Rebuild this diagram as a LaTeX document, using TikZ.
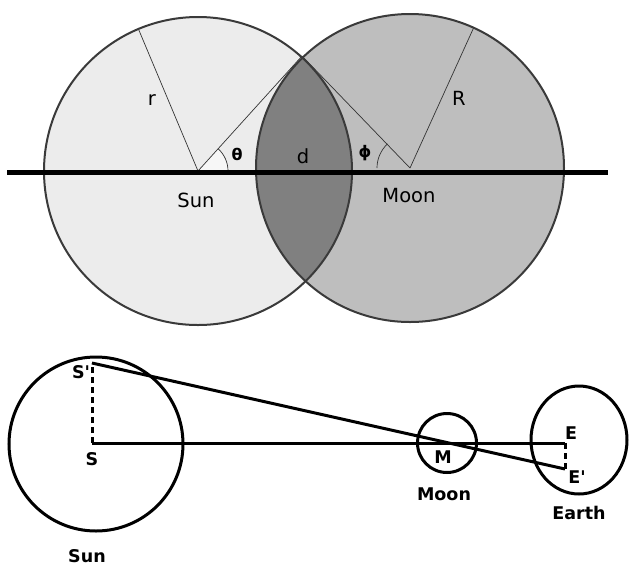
\documentclass[tikz,border=0pt]{standalone}
\usepackage{fontspec}
\newfontfamily\lblfont{DejaVu Sans}
\definecolor{sunfill}{HTML}{ECECEC}
\definecolor{moonfill}{HTML}{BEBEBE}
\definecolor{lensfill}{HTML}{808080}
\definecolor{rim}{HTML}{3A3A3A}
\tikzset{
  rimline/.style={draw=rim, line width=2pt},
  thin/.style={draw=black!80, line width=0.7pt},
  toplabel/.style={font=\lblfont\fontsize{19.5}{19.5}\selectfont, inner sep=0pt},
  greek/.style={font=\lblfont\bfseries\fontsize{16}{16}\selectfont, inner sep=0pt},
  botline/.style={line width=3pt, draw=black},
  dashline/.style={line width=3pt, draw=black, dash pattern=on 6pt off 4pt},
  botlabel/.style={font=\lblfont\bfseries\fontsize{17.5}{17.5}\selectfont, inner sep=0pt}
}
\begin{document}
\begin{tikzpicture}[x=1pt,y=1pt]
\useasboundingbox (0,0) rectangle (630,-566);
% ---------- top diagram ----------
\coordinate (SC) at (198,-171);
\coordinate (MC) at (410,-168);
\coordinate (T) at (302,-56);
\coordinate (rEnd) at (138,-28);
\coordinate (REnd) at (474,-27);
\coordinate (LL) at (7,-172);
\coordinate (LR) at (608,-172);
\fill[sunfill] (SC) circle (154);
\fill[moonfill] (MC) circle (154);
\fill[white!97!black] (SC) -- ++(30,0) arc[start angle=0,end angle=48,radius=30] -- cycle;
\draw[thin] (SC) -- (rEnd);
\draw[thin] (SC) -- (T);
\draw[thin] (MC) -- (T);
\draw[thin] (MC) -- (REnd);
\begin{scope}
  \clip (SC) circle (154);
  \fill[lensfill] (MC) circle (154);
\end{scope}
\draw[rimline] (SC) circle (154);
\draw[rimline] (MC) circle (154);
\draw[thin] (SC) ++(30,0) arc[start angle=0,end angle=48,radius=30];
\draw[thin] (MC) ++(-33,0) arc[start angle=180,end angle=133,radius=33];
\draw[line width=5pt] (LL) -- (LR);
\node[toplabel] (lr) at (152,-100) {r};
\node[toplabel] (lR) at (459,-98) {R};
\node[greek] (lth) at (237,-154) {θ};
\node[toplabel] (ld) at (303,-156) {d};
\node[greek] (lph) at (365,-153) {ϕ};
\node[toplabel] (lsun) at (196,-200) {Sun};
\node[toplabel] (lmoon) at (409,-196) {Moon};
% ---------- bottom diagram ----------
\coordinate (S) at (92,-443);
\coordinate (Sp) at (92,-363);
\coordinate (M) at (447,-443);
\coordinate (E) at (565,-443);
\coordinate (Ep) at (565,-469);
\draw[botline] (96,-444) circle (87);
\draw[botline] (M) circle (29.5);
\draw[botline] (579,-440) ellipse [x radius=48, y radius=54];
\draw[botline] (S) -- (E);
\draw[botline] (Sp) -- (Ep);
\draw[dashline] (S) -- (Sp);
\draw[dashline] (E) -- (Ep);
\node[botlabel] (lSp) at (81,-372) {S'};
\node[botlabel] (lS) at (92,-459) {S};
\node[botlabel] (lM) at (443,-457) {M};
\node[botlabel] (lE) at (571,-433) {E};
\node[botlabel] (lEp) at (577,-477) {E'};
\node[botlabel] (lmoon2) at (444,-494) {Moon};
\node[botlabel] (learth) at (579,-513) {Earth};
\node[botlabel] (lsun2) at (87,-556) {Sun};
\end{tikzpicture}
\end{document}
